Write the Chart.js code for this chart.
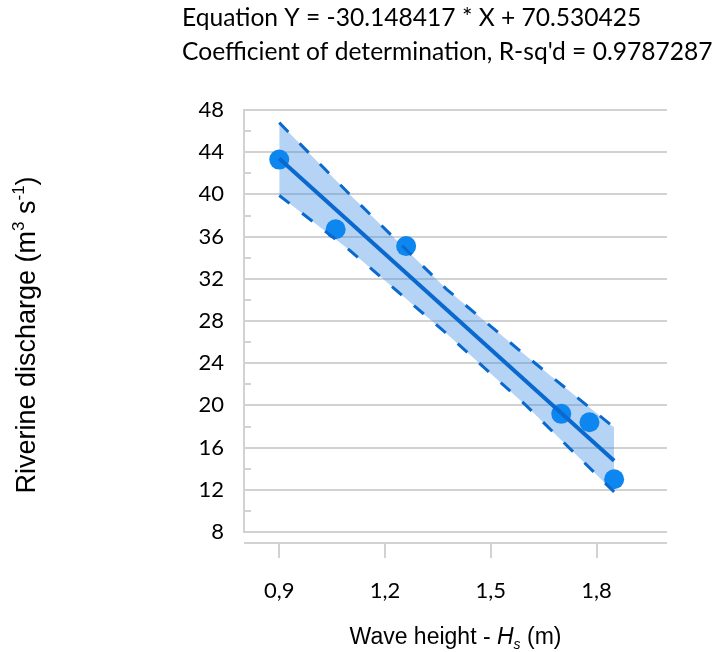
<!DOCTYPE html>
<html>
<head>
<meta charset="utf-8">
<script src="https://cdn.jsdelivr.net/npm/chart.js@4.4.1/dist/chart.umd.min.js"></script>
<style>
  html, body { margin: 0; padding: 0; background: #fff; }
</style>
</head>
<body>
<canvas id="chart" width="720" height="652"></canvas>
<script>
// wave height (m) vs riverine discharge (m3/s)
const waveHeight = [0.9, 1.06, 1.26, 1.70, 1.78, 1.85];
const discharge = [43.3, 36.7, 35.1, 19.2, 18.4, 13.0];

// regression line and its confidence band
const slope = -30.148417;
const intercept = 70.530425;
const rSquared = 0.9787287;
const fitRange = [0.9, 1.85];
const bandX = [0.9, 1.1, 1.375, 1.6, 1.85];
const bandUpper = [46.8, 40.0, 31.0, 24.7, 17.9];
const bandLower = [39.9, 34.7, 26.8, 20.0, 11.8];

const xTicks = [0.9, 1.2, 1.5, 1.8];
const yMinorTicks = [10, 14, 18, 22, 26, 30, 34, 38, 42, 46];

const lineBlue = '#0a69cf';
const dotBlue = '#0d86f0';
const axisGray = '#d2d2d2';
const tickFont = 'Lato';
const labelFont = '"Liberation Sans", Arial, sans-serif';

const pts = (xs, ys) => xs.map((x, i) => ({ x, y: ys[i] }));

// draws a run of text pieces (normal / italic / super / sub) centred on cx
function drawRich(ctx, parts, cx, cy, size, family) {
  const fontOf = p => `${p.italic ? 'italic ' : ''}${p.shift ? Math.round(size * 0.62) : size}px ${family}`;
  let total = 0;
  parts.forEach(p => { ctx.font = fontOf(p); total += ctx.measureText(p.t).width; });
  let x = cx - total / 2;
  ctx.textAlign = 'left';
  ctx.textBaseline = 'alphabetic';
  parts.forEach(p => {
    ctx.font = fontOf(p);
    let dy = 0;
    if (p.shift === 'sup') dy = -size * 0.38;
    if (p.shift === 'sub') dy = size * 0.22;
    ctx.fillText(p.t, x, cy + size * 0.36 + dy);
    x += ctx.measureText(p.t).width;
  });
}

const decorations = {
  id: 'decorations',
  afterDraw(chart) {
    const { ctx, chartArea: a, scales: { x, y } } = chart;
    ctx.save();
    ctx.strokeStyle = axisGray;
    ctx.lineWidth = 2;

    // short minor ticks inside the y axis
    yMinorTicks.forEach(v => {
      const py = Math.round(y.getPixelForValue(v));
      ctx.beginPath();
      ctx.moveTo(a.left, py);
      ctx.lineTo(a.left + 7, py);
      ctx.stroke();
    });

    // x axis sits a little below the plot
    const axisY = a.bottom + 11;
    ctx.beginPath();
    ctx.moveTo(a.left, axisY);
    ctx.lineTo(a.right, axisY);
    ctx.stroke();
    xTicks.forEach(v => {
      const px = Math.round(x.getPixelForValue(v));
      ctx.beginPath();
      ctx.moveTo(px, axisY);
      ctx.lineTo(px, axisY + 15);
      ctx.stroke();
    });

    // equation header
    ctx.fillStyle = '#000';
    ctx.font = `24.6px ${tickFont}`;
    ctx.textAlign = 'left';
    ctx.textBaseline = 'middle';
    ctx.fillText(`Equation Y = ${slope.toFixed(6)} * X + ${intercept.toFixed(6)}`, 182, 18);
    ctx.fillText(`Coefficient of determination, R-sq'd = ${rSquared}`, 182, 52);

    // axis titles
    drawRich(ctx, [
      { t: 'Wave height - ' },
      { t: 'H', italic: true },
      { t: 's', italic: true, shift: 'sub' },
      { t: ' (m)' }
    ], (a.left + a.right) / 2, 636, 23, labelFont);

    ctx.translate(25, 335);
    ctx.rotate(-Math.PI / 2);
    drawRich(ctx, [
      { t: 'Riverine discharge (m' },
      { t: '3', shift: 'sup' },
      { t: ' s' },
      { t: '-1', shift: 'sup' },
      { t: ')' }
    ], 0, 0, 27, labelFont);
    ctx.restore();
  }
};

new Chart(document.getElementById('chart'), {
  type: 'scatter',
  data: {
    datasets: [
      {
        label: 'upper bound',
        data: pts(bandX, bandUpper),
        showLine: true,
        borderColor: lineBlue,
        borderWidth: 3,
        borderDash: [13, 16],
        pointRadius: 0,
        fill: '+1',
        backgroundColor: 'rgba(60, 140, 225, 0.38)',
        order: 2
      },
      {
        label: 'lower bound',
        data: pts(bandX, bandLower),
        showLine: true,
        borderColor: lineBlue,
        borderWidth: 3,
        borderDash: [13, 16],
        pointRadius: 0,
        fill: false,
        order: 2
      },
      {
        label: 'observations',
        data: pts(waveHeight, discharge),
        pointRadius: 10,
        pointBackgroundColor: dotBlue,
        pointBorderWidth: 0,
        order: 3
      },
      {
        label: 'fit',
        data: fitRange.map(x => ({ x, y: slope * x + intercept })),
        showLine: true,
        borderColor: lineBlue,
        borderWidth: 4,
        pointRadius: 0,
        order: 1
      }
    ]
  },
  options: {
    responsive: false,
    animation: false,
    devicePixelRatio: 1,
    layout: { padding: { top: 110, right: 53, bottom: 0, left: 0 } },
    plugins: {
      legend: { display: false },
      tooltip: { enabled: false },
      filler: { drawTime: 'beforeDatasetsDraw' }
    },
    scales: {
      x: {
        type: 'linear',
        min: 0.8,
        max: 2.0,
        afterFit: s => { s.height = 120; },
        afterBuildTicks: s => { s.ticks = xTicks.map(v => ({ value: v })); },
        grid: { display: false, drawTicks: false },
        border: { display: false },
        ticks: {
          padding: 46,
          color: '#000',
          font: { family: tickFont, size: 22 },
          callback: v => v.toFixed(1).replace('.', ',')
        }
      },
      y: {
        min: 8,
        max: 48,
        afterFit: s => { s.width = 244; },
        grid: { color: axisGray, lineWidth: 2, drawTicks: false },
        border: { display: true, color: axisGray, width: 2 },
        ticks: {
          stepSize: 4,
          padding: 20,
          color: '#000',
          font: { family: tickFont, size: 22 }
        }
      }
    }
  },
  plugins: [decorations]
});
</script>
</body>
</html>
